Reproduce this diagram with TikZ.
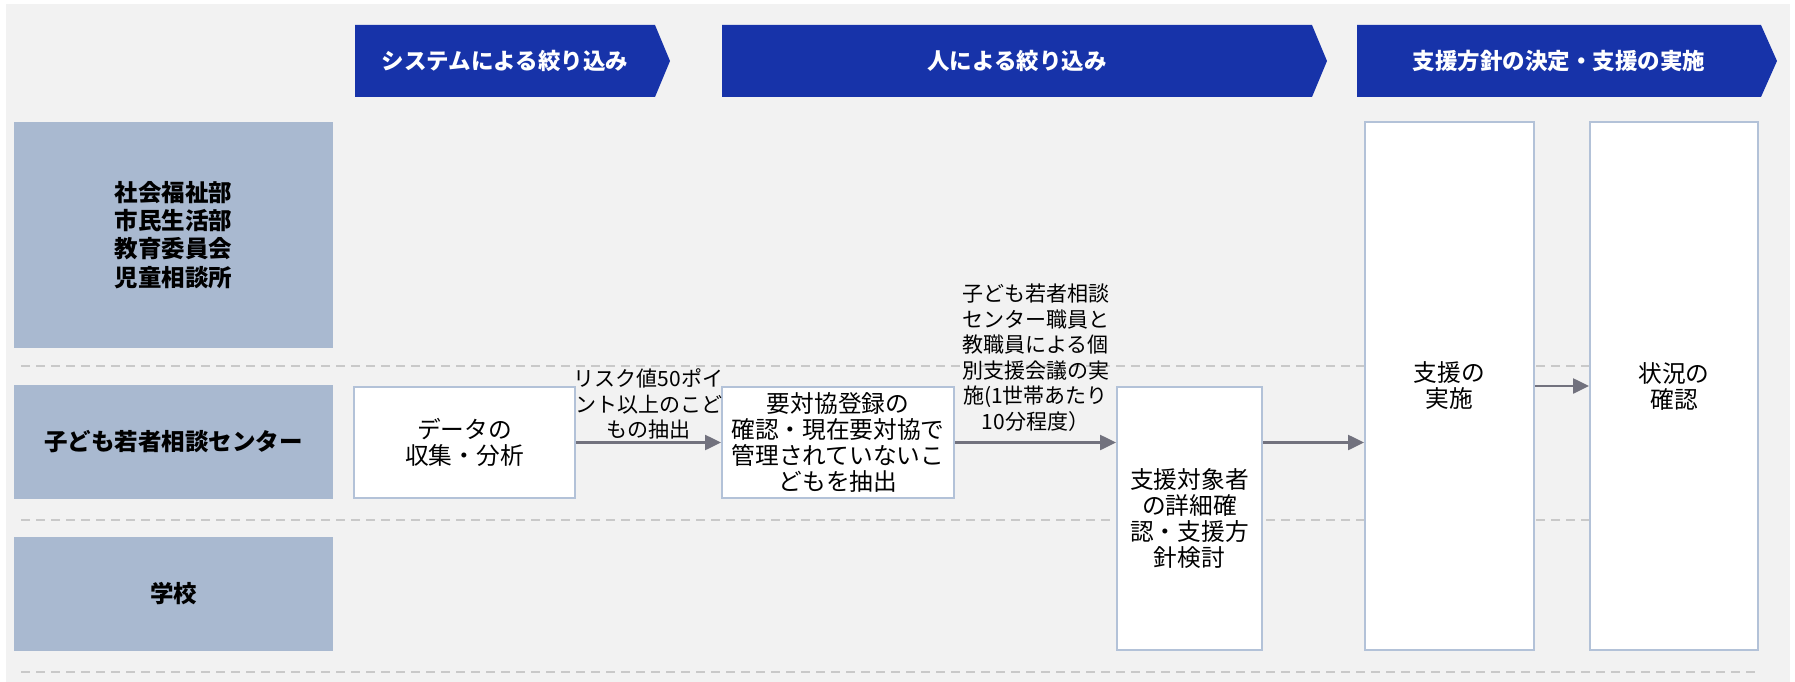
\documentclass[tikz,border=0pt]{standalone}
\usepackage{fontspec}
\setmainfont{Noto Sans CJK JP}
\usetikzlibrary{arrows.meta,positioning}
\definecolor{panelgray}{HTML}{F2F2F2}
\definecolor{bannerblue}{HTML}{1733A9}
\definecolor{lanegray}{HTML}{A9B9D0}
\definecolor{boxline}{HTML}{B3C2D8}
\definecolor{flowgray}{HTML}{72727E}
\definecolor{sepgray}{HTML}{C9C9C9}

\begin{document}
\begin{tikzpicture}[x=1pt,y=-1pt,
		lane/.style={fill=lanegray, minimum width=319pt, align=center, font=\bfseries\fontsize{23.5pt}{28.3pt}\selectfont},
		stepbox/.style={fill=white, draw=boxline, line width=2pt, align=center, font=\fontsize{23.7pt}{26pt}\selectfont},
		flow/.style={draw=flowgray, line width=2.5pt, -{Triangle[length=16pt,width=15pt]}},
		flowlabel/.style={align=center, inner sep=0pt, font=\fontsize{21pt}{25.5pt}\selectfont},
		banner/.style={fill=bannerblue},
		bannertext/.style={text=white, font=\bfseries\fontsize{22.5pt}{26pt}\selectfont},
		sep/.style={draw=sepgray, line width=2pt, dash pattern=on 9pt off 6pt}]

		      		\fill[white] (0,0) rectangle (1795,682);
		      		\useasboundingbox (0,0) rectangle (1795,682);
		      		\fill[panelgray] (6,4) rectangle (1790,682);

		      		\draw[sep] (21,366) -- (1757,366);
		      		\draw[sep] (21,520) -- (1757,520);
		      		\draw[sep] (21,672) -- (1757,672);

		      		\fill[banner] (355,25) -- (655,25) -- (670,61) -- (655,97) -- (355,97) -- cycle;
		      		\fill[banner] (722,25) -- (1312,25) -- (1327,61) -- (1312,97) -- (722,97) -- cycle;
		      		\fill[banner] (1357,25) -- (1761,25) -- (1777,61) -- (1761,97) -- (1357,97) -- cycle;
		      		\node[bannertext] (system) at (505,61) {システムによる絞り込み};
		      		\node[bannertext] (human) at (1017,61) {人による絞り込み};
		      		\node[bannertext] (support) at (1559,61) {支援方針の決定・支援の実施};

		      		\node[lane, minimum height=226pt] (depts) at (173.5,235) {社会福祉部\\市民生活部\\教育委員会\\児童相談所};
		      		\node[lane, minimum height=114pt] (center) at (173.5,442) {子ども若者相談センター};
		      		\node[lane, minimum height=114pt] (school) at (173.5,594) {学校};

		      		\node[stepbox, minimum width=221pt, minimum height=111pt] (data) at (464.5,442.5) {データの\\収集・分析};
		      		\node[stepbox, minimum width=232pt, minimum height=111pt, right=145pt of data] (yotai) {要対協登録の\\確認・現在要対協で\\管理されていないこ\\どもを抽出};
		      		\node[stepbox, minimum width=145pt, minimum height=263pt] (target) at (1189.5,518.5) {支援対象者\\の詳細確\\認・支援方\\針検討};
		      		\node[stepbox, minimum width=169pt, minimum height=528pt] (jissi) at (1449.5,386) {支援の\\実施};
		      		\node[stepbox, minimum width=168pt, minimum height=528pt] (kakunin) at (1674,386) {状況の\\確認};

		      		\draw[flow] (data) -- node[flowlabel, above=2pt] (risk) {リスク値50ポイ\\ント以上のこど\\もの抽出} (yotai);
		      		\draw[flow] (yotai) -- node[flowlabel, above=10pt] (meeting) {子ども若者相談\\センター職員と\\教職員による個\\別支援会議の実\\施(1世帯あたり\\10分程度）} (yotai -| target.west);
		      		\draw[flow] (target.east |- yotai) -- (jissi.west |- yotai);
		      		\draw[flow] (jissi) -- (kakunin);
		      	\end{tikzpicture}
\end{document}
